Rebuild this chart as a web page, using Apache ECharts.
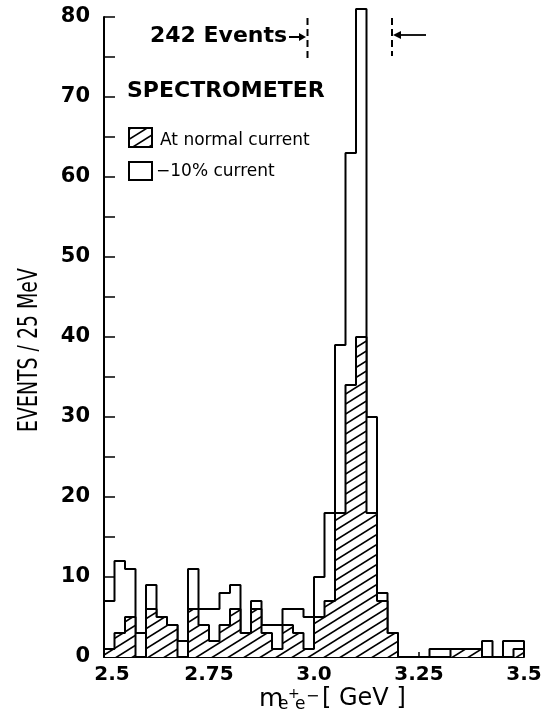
<!DOCTYPE html>
<html><head><meta charset="utf-8">
<script src="https://cdn.jsdelivr.net/npm/echarts@6/dist/echarts.min.js"></script>
<style>html,body{margin:0;padding:0;background:#fff}#c{width:545px;height:715px}</style>
</head><body><div id="c"></div>
<script>
// ---- data ----
const binStart = 2.5;      // GeV, left edge of first bin
const binWidth = 0.025;    // GeV, 25 MeV bins
const xTickLabels = ['2.5', '2.75', '3.0', '3.25', '3.5'];
const yTickLabels = ['0', '10', '20', '30', '40', '50', '60', '70', '80'];
// open histogram: spectrometer at -10% current
const minus10Counts = [7, 12, 11, 3, 9, 5, 4, 2, 11, 6,
                       6, 8, 9, 3, 7, 4, 4, 6, 6, 5,
                       10, 18, 39, 63, 81, 30, 8, 3, 0, 0,
                       0, 1, 1, 1, 1, 1, 2, 0, 2, 2];
// hatched histogram: at normal current
const normalCounts = [1, 3, 5, 0, 6, 5, 4, 0, 6, 4,
                      2, 4, 6, 3, 6, 3, 1, 4, 3, 1,
                      5, 7, 18, 34, 40, 18, 7, 3, 0, 0,
                      0, 0, 0, 1, 1, 1, 0, 0, 0, 1];
const seriesNames = ['At normal current', '\u221210% current'];
const yTitle = 'EVENTS / 25 MeV';

// ---- helpers ----
function stepPoints(counts) {
  const pts = [[binStart, 0]];
  counts.forEach((c, i) => pts.push([+(binStart + i * binWidth).toFixed(4), c]));
  const end = +(binStart + counts.length * binWidth).toFixed(4);
  pts.push([end, counts[counts.length - 1]]);
  pts.push([end, 0]);
  return pts;
}
function hatchCanvas() {
  const c = document.createElement('canvas');
  c.width = 16; c.height = 10;
  const g = c.getContext('2d');
  g.fillStyle = '#fff'; g.fillRect(0, 0, 16, 10);
  g.strokeStyle = '#000'; g.lineWidth = 1.6;
  [-16, 0, 16].forEach(dx => {
    g.beginPath(); g.moveTo(-16 + dx, 20); g.lineTo(32 + dx, -10); g.stroke();
  });
  return c;
}
const hatch = { image: hatchCanvas(), repeat: 'repeat' };
const FONT = '"DejaVu Sans", sans-serif';

function txt(text, x, y, size, weight, align, extra) {
  const el = { type: 'text', x: x, y: y, z: 10,
    style: { text: text, fill: '#000', font: (weight || 'normal') + ' ' + size + 'px ' + FONT,
      align: align || 'left', verticalAlign: 'middle', textAlign: align || 'left', textVerticalAlign: 'middle' } };
  return Object.assign(el, extra || {});
}

const chart = echarts.init(document.getElementById('c'), null, { renderer: 'canvas' });
chart.setOption({
  animation: false,
  backgroundColor: '#fff',
  grid: { left: 104, top: 17, width: 420, height: 640, containLabel: false },
  xAxis: {
    type: 'value', min: 2.5, max: 3.5, interval: 0.25,
    axisLine: { show: true, lineStyle: { color: '#000', width: 2 } },
    axisTick: { show: true, inside: true, length: 5, lineStyle: { color: '#000', width: 1.5 } },
    splitLine: { show: false },
    axisLabel: {
      margin: 8, color: '#000', fontSize: 20, fontWeight: 'bold', fontFamily: FONT,
      formatter: v => {
        const i = Math.round((v - binStart) / 0.25);
        const s = xTickLabels[i];
        return i === 0 ? '{a|' + s + '}' : s;
      },
      rich: { a: { padding: [0, 0, 0, 16], fontSize: 20, fontWeight: 'bold', fontFamily: FONT, color: '#000' } }
    }
  },
  yAxis: {
    type: 'value', min: 0, max: 80, interval: 5,
    axisLine: { show: true, lineStyle: { color: '#000', width: 2 } },
    axisTick: { show: true, inside: true, length: 11, lineStyle: { color: '#000', width: 1.5 } },
    splitLine: { show: false },
    axisLabel: {
      margin: 14, color: '#000', fontSize: 21, fontWeight: 'bold', fontFamily: FONT,
      formatter: v => (v % 10 === 0 ? yTickLabels[v / 10] : '')
    }
  },
  series: [
    { name: seriesNames[1], type: 'line', step: 'end', data: stepPoints(minus10Counts),
      symbol: 'none', clip: false, z: 2,
      lineStyle: { color: '#000', width: 2 }, areaStyle: { color: '#fff', opacity: 1 } },
    { name: seriesNames[0], type: 'line', step: 'end', data: stepPoints(normalCounts),
      symbol: 'none', clip: false, z: 3,
      lineStyle: { color: '#000', width: 2 }, areaStyle: { color: hatch, opacity: 1 } }
  ],
  graphic: [
    // y-axis title, condensed lettering
    txt(yTitle, 30, 350, 27, 'normal', 'center', { rotation: Math.PI / 2, scaleX: 0.7 }),
    txt('242 Events', 150, 36, 22, 'bold'),
    { type: 'line', shape: { x1: 289, y1: 37, x2: 300, y2: 37 }, style: { stroke: '#000', lineWidth: 2 } },
    { type: 'polygon', shape: { points: [[299, 33], [306, 37], [299, 41]] }, style: { fill: '#000' } },
    { type: 'line', shape: { x1: 307.5, y1: 18, x2: 307.5, y2: 62 }, style: { stroke: '#000', lineWidth: 2, lineDash: [7, 4] } },
    { type: 'line', shape: { x1: 392, y1: 18, x2: 392, y2: 56 }, style: { stroke: '#000', lineWidth: 2, lineDash: [7, 4] } },
    { type: 'line', shape: { x1: 398, y1: 35, x2: 426, y2: 35 }, style: { stroke: '#000', lineWidth: 1.8 } },
    { type: 'polygon', shape: { points: [[393, 35], [401, 31], [401, 39]] }, style: { fill: '#000' } },
    txt('SPECTROMETER', 127, 91, 22, 'bold'),
    { type: 'rect', shape: { x: 129, y: 128, width: 23, height: 19 }, style: { fill: hatch, stroke: '#000', lineWidth: 2 } },
    txt(seriesNames[0], 160, 141, 17),
    { type: 'rect', shape: { x: 129, y: 162, width: 23, height: 18 }, style: { fill: '#fff', stroke: '#000', lineWidth: 2 } },
    txt(seriesNames[1], 156, 172, 17),
    // x-axis title: m_{e+e-} [GeV]
    txt('m', 259, 699, 25),
    txt('e', 278, 705, 17),
    txt('+', 288, 694, 14),
    txt('e', 295, 705, 17),
    txt('\u2212', 306, 697, 16),
    txt('[ GeV ]', 322, 699, 24)
  ]
});
</script>
</body></html>
